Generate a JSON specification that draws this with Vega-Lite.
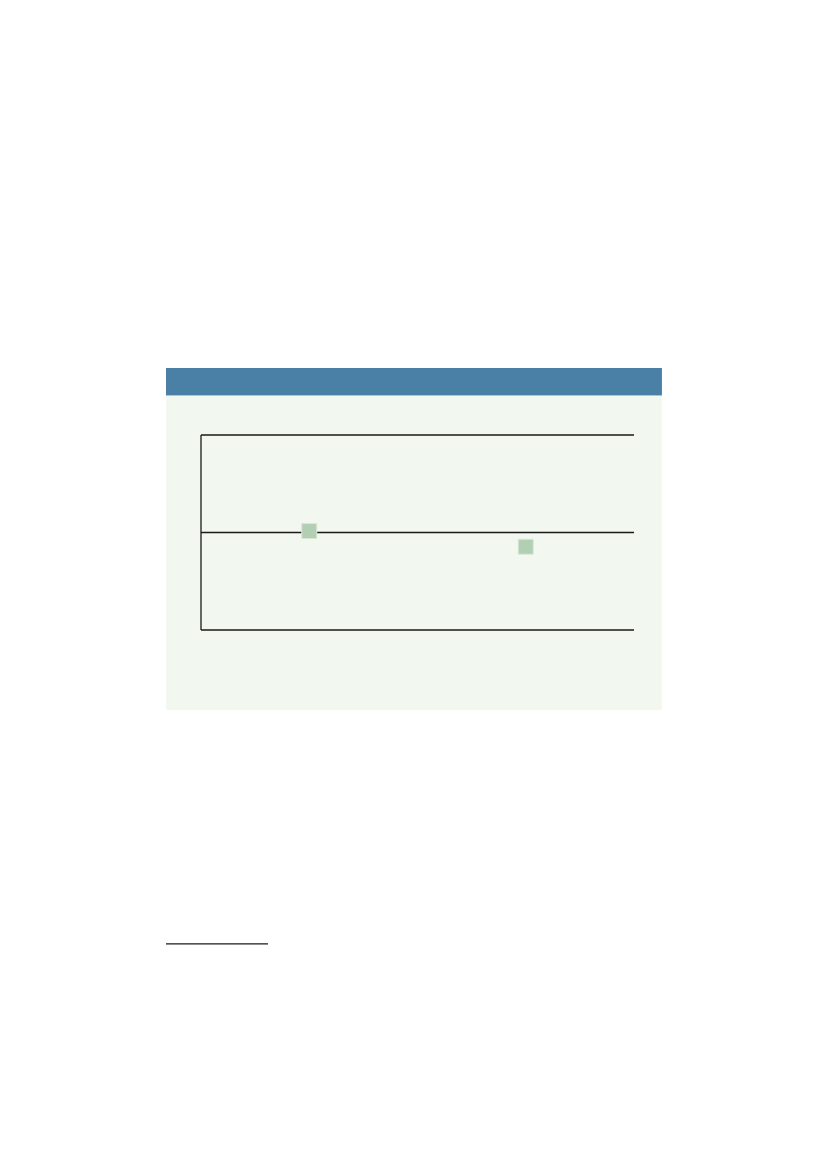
{
  "$schema": "https://vega.github.io/schema/vega-lite/v6.json",
  "description": "Two-group dot chart on a shaded figure panel",
  "width": 433,
  "height": 195,
  "autosize": "none",
  "padding": {"left": 201, "top": 435, "right": 193, "bottom": 539},
  "background": "#ffffff",
  "config": {"view": {"stroke": null}},
  "layer": [
    {
      "data": {"values": [{}]},
      "mark": {"type": "rect", "color": "#f2f8f0"},
      "encoding": {
        "x": {"datum": 0.3383, "type": "quantitative", "scale": {"domain": [0.5, 2.5], "nice": false, "zero": false}, "axis": null},
        "x2": {"datum": 2.629},
        "y": {"datum": 2.687, "type": "quantitative", "scale": {"domain": [0, 2], "nice": false, "zero": false}, "axis": null},
        "y2": {"datum": -0.821}
      }
    },
    {
      "data": {"values": [{}]},
      "mark": {"type": "rect", "color": "#4a80a6"},
      "encoding": {
        "x": {"datum": 0.3383, "type": "quantitative"},
        "x2": {"datum": 2.629},
        "y": {"datum": 2.687, "type": "quantitative"},
        "y2": {"datum": 2.41}
      }
    },
    {
      "data": {"values": [{}]},
      "mark": {"type": "rule", "color": "#a9c5da", "strokeWidth": 1},
      "encoding": {
        "x": {"datum": 0.3383, "type": "quantitative"},
        "x2": {"datum": 2.629},
        "y": {"datum": 2.405, "type": "quantitative"}
      }
    },
    {
      "data": {"values": [{}]},
      "mark": {"type": "rule", "color": "#1a1a1a", "strokeWidth": 1.3},
      "encoding": {"y": {"datum": 0, "type": "quantitative"}}
    },
    {
      "data": {"values": [{}]},
      "mark": {"type": "rule", "color": "#1a1a1a", "strokeWidth": 1.3},
      "encoding": {"y": {"datum": 1, "type": "quantitative"}}
    },
    {
      "data": {"values": [{}]},
      "mark": {"type": "rule", "color": "#1a1a1a", "strokeWidth": 1.3},
      "encoding": {"y": {"datum": 2, "type": "quantitative"}}
    },
    {
      "data": {"values": [{}]},
      "mark": {"type": "rule", "color": "#1a1a1a", "strokeWidth": 1.3},
      "encoding": {
        "x": {"datum": 0.5, "type": "quantitative"},
        "y": {"datum": 0, "type": "quantitative"},
        "y2": {"datum": 2}
      }
    },
    {
      "data": {"values": [{}]},
      "mark": {"type": "rule", "color": "#1a1a1a", "strokeWidth": 1.3},
      "encoding": {
        "x": {"datum": 0.3383, "type": "quantitative"},
        "x2": {"datum": 0.8095},
        "y": {"datum": -3.22, "type": "quantitative"}
      }
    },
    {
      "data": {
        "values": [
          {"group": 1, "value": 1.015},
          {"group": 2, "value": 0.854}
        ]
      },
      "mark": {
        "type": "point",
        "shape": "square",
        "filled": true,
        "size": 225,
        "color": "#b3cfb3",
        "stroke": "#d8e8d5",
        "strokeWidth": 1,
        "opacity": 1
      },
      "encoding": {
        "x": {"field": "group", "type": "quantitative"},
        "y": {"field": "value", "type": "quantitative"}
      }
    }
  ]
}
